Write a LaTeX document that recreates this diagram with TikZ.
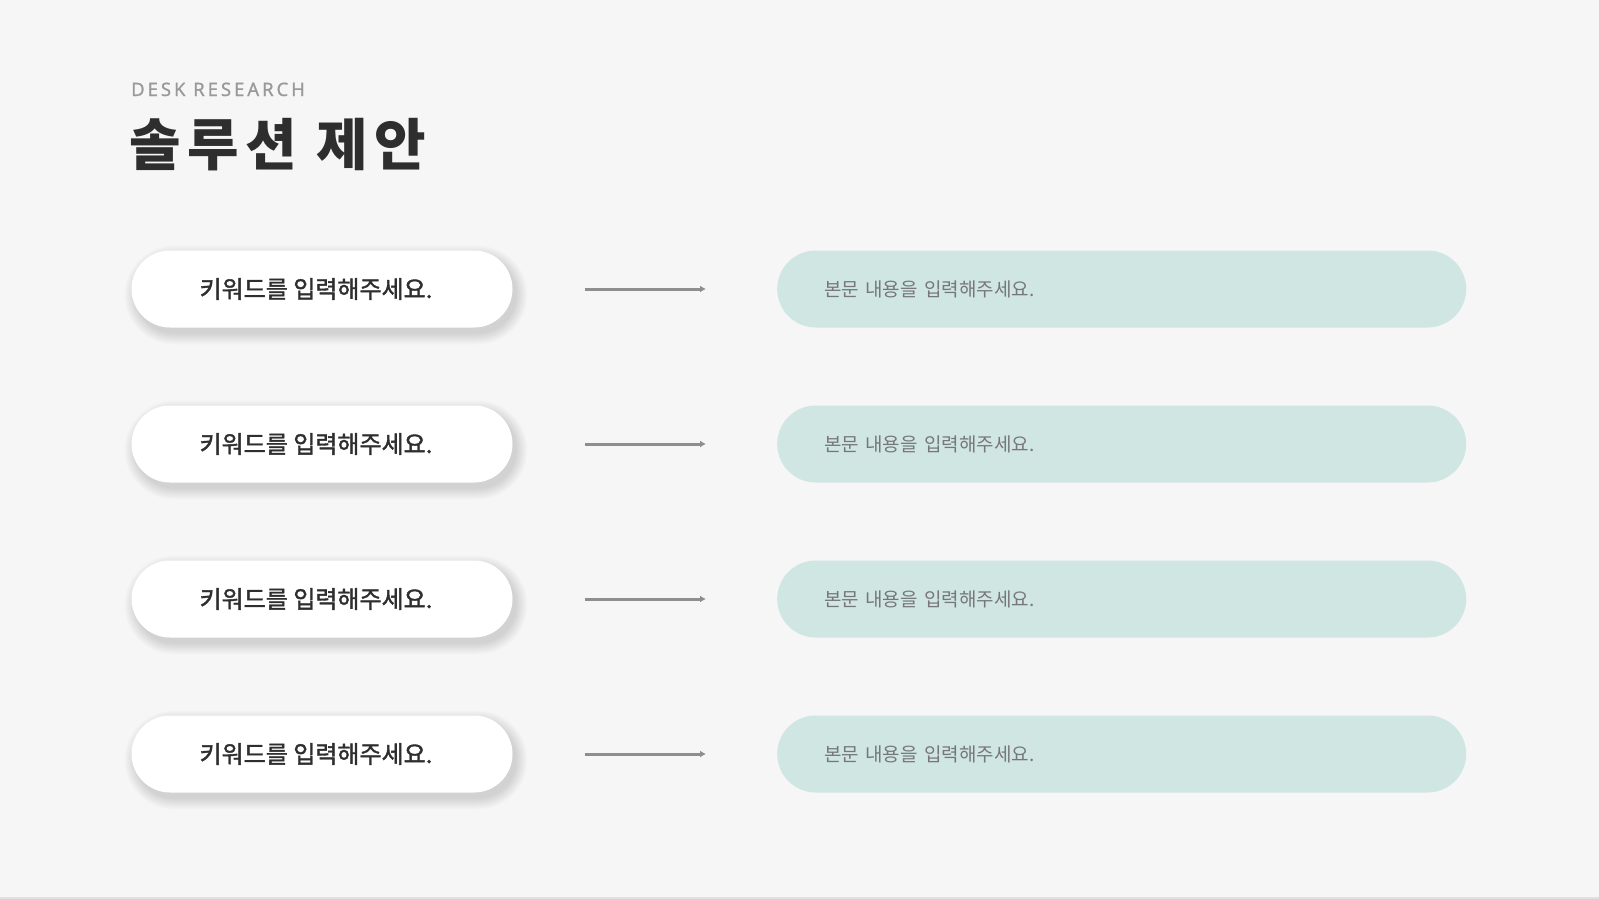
\documentclass[tikz,border=0pt]{standalone}
\usepackage{fontspec}
\setmainfont{Noto Sans CJK KR}
\newfontfamily\kickerfont{Noto Sans}
\usetikzlibrary{arrows.meta}
\definecolor{pagebg}{HTML}{F6F6F6}
\definecolor{mint}{HTML}{CFE6E3}
\definecolor{darktext}{HTML}{2E2E2E}
\definecolor{softtext}{HTML}{777777}
\definecolor{arrowgray}{HTML}{8E8E8E}
\begin{document}
\begin{tikzpicture}[x=1pt,y=-1pt]
        % Styles
        \tikzstyle{key pill}=[rounded corners=38.5pt,fill=white,minimum width=381pt,minimum height=77pt,inner sep=0pt,
            font=\fontsize{24}{28}\selectfont\addfontfeature{FakeBold=1.6},text=darktext]
        \tikzstyle{key shadow}=[fill=black,opacity=0.010]
        \tikzstyle{body pill}=[rounded corners=38.5pt,fill=mint,minimum height=77pt,inner xsep=47pt,inner ysep=0pt,
            text width=595pt,align=left,anchor=west,font=\fontsize{19}{23}\selectfont,text=softtext]
        \tikzstyle{link}=[line width=3pt,draw=arrowgray,-{Latex[length=6pt,width=7pt]},shorten <=72pt,shorten >=71pt]
        %background
        \fill[pagebg] (0,0) rectangle (1599,899);
        \fill[black!12] (0,896.5) rectangle (1599,899);
        %heading
        \node[anchor=base west,inner sep=0pt,text=black!40,font=\kickerfont\fontsize{18.5}{20}\selectfont\addfontfeature{FakeBold=0.8,LetterSpace=16}] (kicker) at (131,96) {DESK RESEARCH};
        \node[anchor=base west,inner sep=0pt,text=darktext,font=\fontsize{56}{60}\selectfont\bfseries\addfontfeature{LetterSpace=12}] (title) at (129,165) {솔루션 제안};
        %rows
        \foreach \i/\y in {1/289,2/444,3/599,4/754}{
            % soft shadow under the keyword pill
            \foreach \s in {0,...,11}
                \fill[key shadow,rounded corners=38.5pt+\s pt] (131.5+4-\s,\y-38.5+6-\s) rectangle (512.5+4+\s,\y+38.5+6+\s);
            \node[key pill] (key\i) at (322,\y) {키워드를 입력해주세요.\kern12pt};
            \node[body pill] (body\i) at (777,\y) {본문 내용을 입력해주세요.};
            \draw[link] (key\i) -- (body\i);
        }
\end{tikzpicture}
\end{document}
